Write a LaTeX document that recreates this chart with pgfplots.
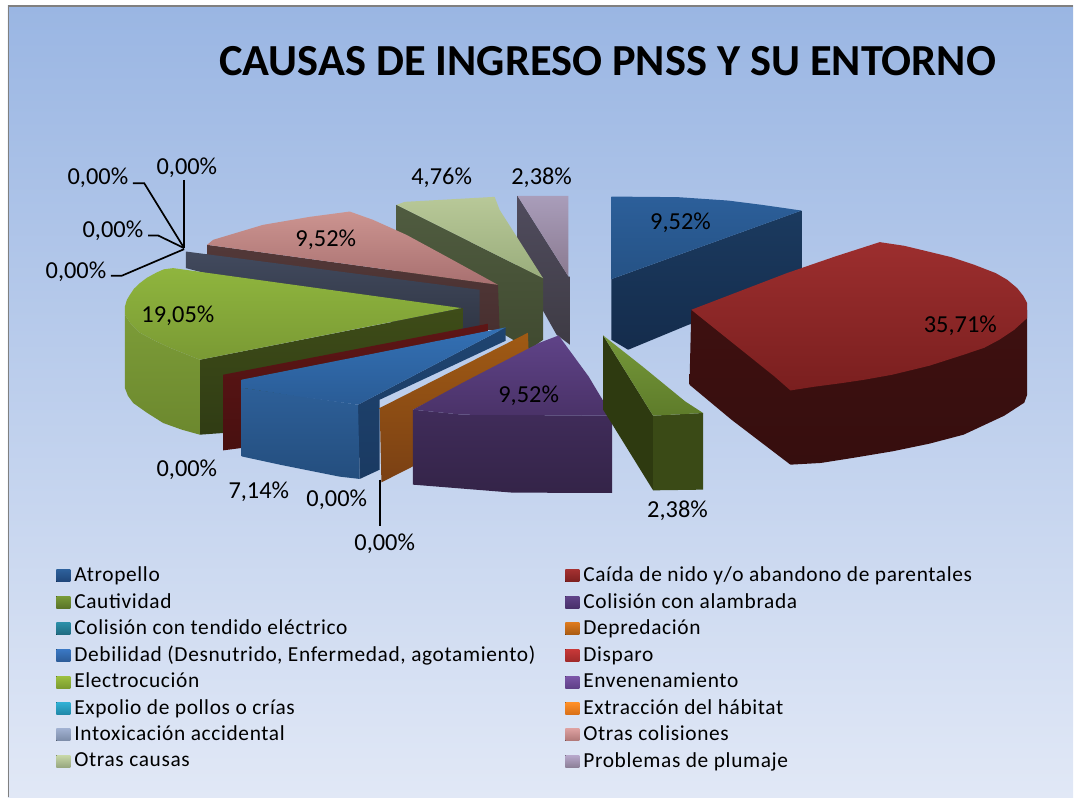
\documentclass[border=0pt]{standalone}
\usepackage{fontspec}
\setmainfont{Carlito}
\newfontfamily\legfont[LetterSpace=3.0]{Carlito}
\usepackage{pgfplots}
\pgfplotsset{compat=1.18}

% slice colours: top / bottom of each face
\definecolor{bgT}{HTML}{9AB6E3}\definecolor{bgB}{HTML}{E1E8F6}
\definecolor{atT}{HTML}{2C5F9A}\definecolor{atB}{HTML}{255285}
\definecolor{atS}{HTML}{1B3A5F}\definecolor{atD}{HTML}{142C4C}
\definecolor{caT}{HTML}{9C2E2E}\definecolor{caB}{HTML}{7A1F1F}
\definecolor{caS}{HTML}{3E1010}\definecolor{caD}{HTML}{360E0E}
\definecolor{cuT}{HTML}{76983A}\definecolor{cuB}{HTML}{5E7C2A}
\definecolor{cuS}{HTML}{2E3A10}\definecolor{cuR}{HTML}{3A4A16}
\definecolor{plT}{HTML}{A99DBA}\definecolor{plB}{HTML}{8A7A90}
\definecolor{plS}{HTML}{504C5E}\definecolor{plD}{HTML}{3E3B44}
\definecolor{ocT}{HTML}{B8C898}\definecolor{ocB}{HTML}{9AAD7C}
\definecolor{ocS}{HTML}{505C40}\definecolor{ocD}{HTML}{404A30}
\definecolor{cpT}{HTML}{CC9490}\definecolor{cpB}{HTML}{A87070}
\definecolor{cpS}{HTML}{523838}\definecolor{cpD}{HTML}{483030}
\definecolor{inT}{HTML}{424A5E}\definecolor{inB}{HTML}{2E3442}
\definecolor{elT}{HTML}{8FB53E}\definecolor{elB}{HTML}{7A9A34}
\definecolor{elS}{HTML}{7C9C38}\definecolor{elD}{HTML}{6C882E}
\definecolor{elI}{HTML}{3E4C18}\definecolor{elJ}{HTML}{303C14}
\definecolor{diT}{HTML}{5E1616}\definecolor{diB}{HTML}{481010}
\definecolor{deT}{HTML}{3370B4}\definecolor{deB}{HTML}{2A5C96}
\definecolor{deS}{HTML}{2D5F98}\definecolor{deD}{HTML}{244E7E}
\definecolor{deI}{HTML}{1F4470}\definecolor{deJ}{HTML}{1A3A62}
\definecolor{dpT}{HTML}{A05A14}\definecolor{dpB}{HTML}{7A4014}
\definecolor{enT}{HTML}{5F4388}\definecolor{enB}{HTML}{4A3268}
\definecolor{enS}{HTML}{402C5A}\definecolor{enD}{HTML}{342448}

% legend swatches
\definecolor{l1a}{HTML}{2C5F9A}\definecolor{l1b}{HTML}{1F4578}
\definecolor{l2a}{HTML}{A33030}\definecolor{l2b}{HTML}{7C1F1F}
\definecolor{l3a}{HTML}{789A38}\definecolor{l3b}{HTML}{5A7428}
\definecolor{l4a}{HTML}{5F4388}\definecolor{l4b}{HTML}{47306A}
\definecolor{l5a}{HTML}{2B8EA8}\definecolor{l5b}{HTML}{1F6A80}
\definecolor{l6a}{HTML}{DD7A1E}\definecolor{l6b}{HTML}{A85A12}
\definecolor{l7a}{HTML}{3A78C4}\definecolor{l7b}{HTML}{2C5C98}
\definecolor{l8a}{HTML}{C83838}\definecolor{l8b}{HTML}{A02A2A}
\definecolor{l9a}{HTML}{9CC040}\definecolor{l9b}{HTML}{7C9C30}
\definecolor{l10a}{HTML}{7C56A8}\definecolor{l10b}{HTML}{5F4088}
\definecolor{l11a}{HTML}{30B0D4}\definecolor{l11b}{HTML}{2088A8}
\definecolor{l12a}{HTML}{FF9028}\definecolor{l12b}{HTML}{D87018}
\definecolor{l13a}{HTML}{A0B0D0}\definecolor{l13b}{HTML}{7C8CA8}
\definecolor{l14a}{HTML}{DCA0A0}\definecolor{l14b}{HTML}{B07878}
\definecolor{l15a}{HTML}{C8D8A8}\definecolor{l15b}{HTML}{98A880}
\definecolor{l16a}{HTML}{B8A8CC}\definecolor{l16b}{HTML}{8C8098}

\pgfplotsset{
    face/.style 2 args={top color=#1, bottom color=#2, draw=none, forget plot, no marks, sharp plot},
    leader/.style={black, line width=0.85pt, forget plot, no marks, sharp plot},
    swatch/.style 2 args={legend image code/.code={
        \fill[top color=#1, bottom color=#2, draw=none] (0pt,-3pt) rectangle (7pt,3pt);}},
}
\tikzset{lbl/.style={font=\fontsize{12.2pt}{14pt}\selectfont, inner sep=0pt, text=black}}

\begin{document}
\begin{tikzpicture}
\begin{axis}[
    scale only axis,
    width=537pt,
    height=399pt,
    xmin=0, xmax=1074,
    ymin=0, ymax=798,
    y dir=reverse,
    hide axis,
    clip=false,
    legend columns=2,
    legend cell align=left,
    legend style={
        at={(axis cs:50,559)}, anchor=north west,
        draw=none, fill=none, font=\legfont\fontsize{10.7pt}{12pt}\selectfont,
        /tikz/every even column/.append style={column sep=13pt},
        row sep=0.25pt,
    },
]
% page and panel
\addplot[draw=none, fill=white, forget plot, no marks] coordinates {(0,0) (1074,0) (1074,798) (0,798)};
\addplot[face={bgT}{bgB}] coordinates {(8,6) (1074,6) (1074,798) (8,798)};
\addplot[color=gray, line width=0.8pt, forget plot, no marks] coordinates {(8.5,798) (8.5,6) (1074,6)};

% Atropello
\addplot[face={atS}{atD}] coordinates {(802,210.7) (802,290) (689,325) (628.6,350) (611.8,340) (611.8,279.3)};
\addplot[face={atT}{atB}] coordinates {(611.8,196.7) (678.6,197.3) (728.6,200.7) (762.5,205) (802.1,210.7) (611.8,279.3)};
% Problemas de plumaje
\addplot[face={plS}{plD}] coordinates {(517.9,196) (568.9,276.7) (570.4,276.7) (570.4,345) (557,335) (544.6,313) (518,270)};
\addplot[face={plT}{plB}] coordinates {(517.9,196) (568.9,196) (568.9,276.7)};
% Otras causas
\addplot[face={ocS}{ocD}] coordinates {(397,205) (543.5,278.5) (543.5,340) (530,350) (480,320) (397,272)};
\addplot[face={ocT}{ocB}] coordinates {(397,205) (405,202) (495,197) (500,210) (543.5,278.5)};
% Otras colisiones
\addplot[face={cpS}{cpD}] coordinates {(207.3,245) (498.3,285) (500,330) (470,330) (207.3,262)};
\addplot[face={cpT}{cpB}] coordinates {(207.3,245) (213.3,240) (263.3,225) (310,217) (350,211.7) (373.3,220) (406.7,235) (446.7,256.7) (498.3,285)};
% Intoxicacion accidental
\addplot[face={inT}{inB}] coordinates {(186,251.7) (480,290) (480,335) (460,340) (186,268.3)};
% Electrocucion
\addplot[face={elI}{elJ}] coordinates {(200,360) (463.3,308.3) (463.3,328.3) (223.3,433.3) (200,435)};
\addplot[face={elS}{elD}] coordinates {(125,315) (131,324) (140,333) (155,341) (170,348) (200,360) (200,435) (182,430) (163.3,423.3) (147,413) (133.3,403.3) (128,396) (125,388.3)};
\addplot[face={elT}{elB}] coordinates {(461.7,308.3) (173.3,268.3) (164,269.5) (156.7,272.7) (147,278) (140,283.3) (134,289) (130,295) (127,300) (125,306.7) (125,315) (131,324) (140,333) (155,341) (170,348) (200,360)};
% Disparo
\addplot[face={diT}{diB}] coordinates {(488.3,324) (223.3,375) (223.3,450.7) (241.7,448.3) (241.7,380) (488.3,331.7)};
% Debilidad
\addplot[face={deI}{deJ}] coordinates {(358.3,405) (506,327.7) (506,341) (380,400) (380,470) (360,479.3)};
\addplot[face={deS}{deD}] coordinates {(241.7,388) (358.3,405) (360,479.3) (340,477) (320,473) (280,465) (241.7,456.7)};
\addplot[face={deT}{deB}] coordinates {(506,327.7) (241.7,380) (241.7,388) (300,397) (358.3,405)};
% Depredacion
\addplot[face={dpT}{dpB}] coordinates {(528.3,333) (380,408.3) (381.7,482.7) (413.3,466.7) (413.3,410) (529,350.7)};
% Colision con alambrada
\addplot[face={enS}{enD}] coordinates {(413.3,410) (463,415) (612.5,416) (612.5,493.3) (513,493) (413.3,485)};
\addplot[face={enT}{enB}] coordinates {(413.3,410) (463,383) (540,343) (559,335.7) (589,376.7) (612.5,416) (463,415)};
% Cautividad
\addplot[face={cuS}{cuS}] coordinates {(603.6,335.7) (653.6,416) (653.6,490.7) (614,426.7) (603.6,410)};
\addplot[face={cuR}{cuR}] coordinates {(653.6,416) (703.6,413.3) (703.6,490) (653.6,490.7)};
\addplot[face={cuT}{cuB}] coordinates {(603.6,335.7) (642.9,366.7) (685.7,401.7) (703.6,413.3) (653.6,416)};
% Caida de nido
\addplot[face={caS}{caD}] coordinates {(691.8,310) (720,310) (800,380) (791,465) (732,420) (690,385)};
\addplot[face={caS}{caD}] coordinates {(791,385) (1027.9,310) (1027.9,395) (1025,403) (1005,416) (964.3,435) (930,444) (892.9,451.7) (855,458) (821.4,463.3) (791,465)};
\addplot[face={caT}{caB}] coordinates {(691.8,310) (787.5,273.3) (835.7,256.7) (880.4,242.3) (905,246) (930,252) (951.8,257.3) (975,265) (996.4,273.3) (1008,280) (1017.9,288.3) (1024,296) (1027.9,303.3) (1027.9,318.3) (1015,330) (1000,340) (985,348) (964.3,355) (930,366) (892.9,375) (865,380) (842.9,383.3) (815,387) (791,390.7) (775,376.7)};

% leader lines
\addplot[leader] coordinates {(184.3,180) (184.3,248.3)};
\addplot[leader] coordinates {(133,183.3) (144.3,183.3) (184.3,248.3)};
\addplot[leader] coordinates {(148.3,235.7) (158.3,235.7) (184.3,248.3)};
\addplot[leader] coordinates {(111,276) (121.7,276) (184.3,249.3)};
\addplot[leader] coordinates {(380,480) (380,526.7)};

% legend, in the order of the source table
\addlegendimage{swatch={l1a}{l1b}}\addlegendentry{Atropello}
\addlegendimage{swatch={l2a}{l2b}}\addlegendentry{Caída de nido y/o abandono de parentales}
\addlegendimage{swatch={l3a}{l3b}}\addlegendentry{Cautividad}
\addlegendimage{swatch={l4a}{l4b}}\addlegendentry{Colisión con alambrada}
\addlegendimage{swatch={l5a}{l5b}}\addlegendentry{Colisión con tendido eléctrico}
\addlegendimage{swatch={l6a}{l6b}}\addlegendentry{Depredación}
\addlegendimage{swatch={l7a}{l7b}}\addlegendentry{Debilidad (Desnutrido, Enfermedad, agotamiento)}
\addlegendimage{swatch={l8a}{l8b}}\addlegendentry{Disparo}
\addlegendimage{swatch={l9a}{l9b}}\addlegendentry{Electrocución}
\addlegendimage{swatch={l10a}{l10b}}\addlegendentry{Envenenamiento}
\addlegendimage{swatch={l11a}{l11b}}\addlegendentry{Expolio de pollos o crías}
\addlegendimage{swatch={l12a}{l12b}}\addlegendentry{Extracción del hábitat}
\addlegendimage{swatch={l13a}{l13b}}\addlegendentry{Intoxicación accidental}
\addlegendimage{swatch={l14a}{l14b}}\addlegendentry{Otras colisiones}
\addlegendimage{swatch={l15a}{l15b}}\addlegendentry{Otras causas}
\addlegendimage{swatch={l16a}{l16b}}\addlegendentry{Problemas de plumaje}

% title and data labels
\node[font=\bfseries\fontsize{22.2pt}{26pt}\selectfont] at (axis cs:608,61) {CAUSAS DE INGRESO PNSS Y SU ENTORNO};
\node[lbl] at (axis cs:187,168) {0,00\%};
\node[lbl] at (axis cs:98,178) {0,00\%};
\node[lbl] at (axis cs:113,231) {0,00\%};
\node[lbl] at (axis cs:76,272) {0,00\%};
\node[lbl] at (axis cs:442,178) {4,76\%};
\node[lbl] at (axis cs:542,178) {2,38\%};
\node[lbl] at (axis cs:681,223) {9,52\%};
\node[lbl] at (axis cs:961,326) {35,71\%};
\node[lbl] at (axis cs:326,240) {9,52\%};
\node[lbl] at (axis cs:178,316) {19,05\%};
\node[lbl] at (axis cs:529,396) {9,52\%};
\node[lbl] at (axis cs:678,511) {2,38\%};
\node[lbl] at (axis cs:187,470) {0,00\%};
\node[lbl] at (axis cs:259,492) {7,14\%};
\node[lbl] at (axis cs:337,500) {0,00\%};
\node[lbl] at (axis cs:385,544) {0,00\%};
\end{axis}
\end{tikzpicture}
\end{document}
